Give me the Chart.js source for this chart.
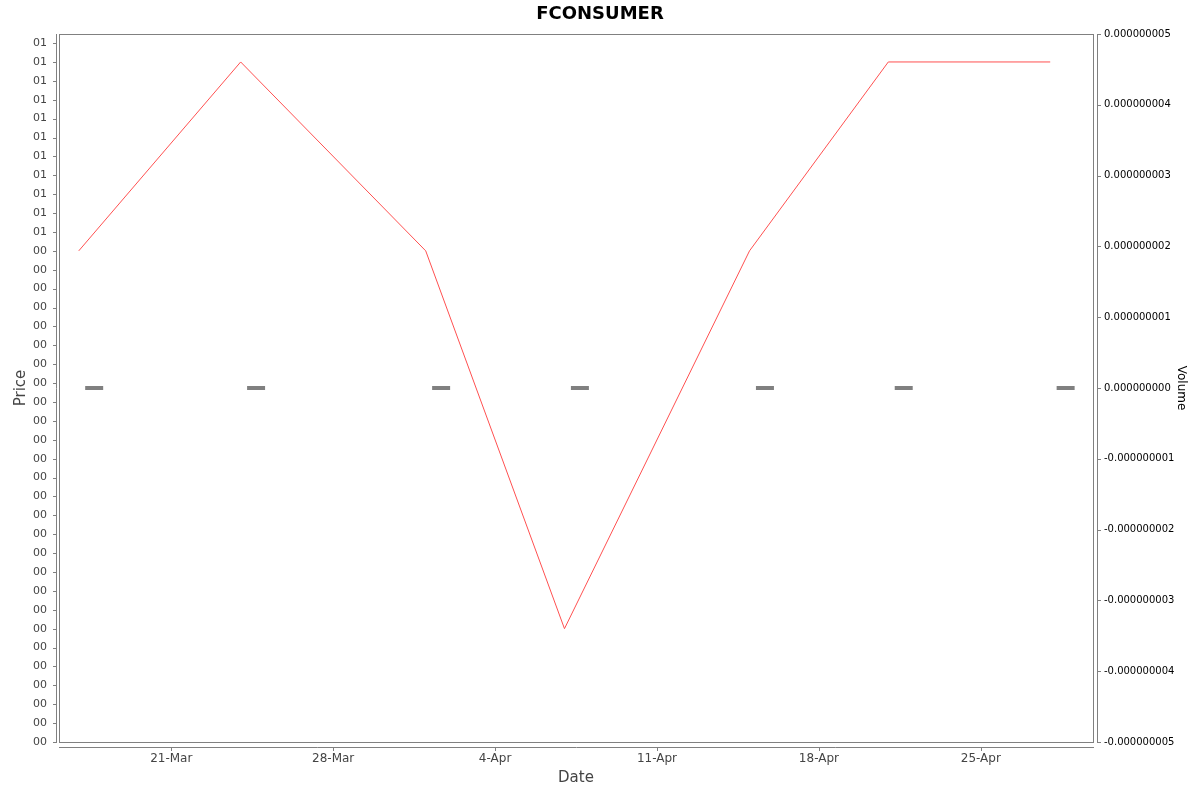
<!DOCTYPE html>
<html><head><meta charset="utf-8">
<script src="https://cdn.jsdelivr.net/npm/chart.js@4.4.0/dist/chart.umd.min.js"></script>
<style>html,body{margin:0;padding:0;background:#fff}canvas{display:block}</style>
</head><body>
<canvas id="c" width="1200" height="792"></canvas>
<script>
// ---- data ----
const chartTitle = 'FCONSUMER';
const priceDates = ['2025-03-17', '2025-03-24', '2025-04-01', '2025-04-07', '2025-04-15', '2025-04-21', '2025-04-28'];
const priceValues = [0.50, 0.60, 0.50, 0.30, 0.50, 0.60, 0.60];
const volumeDates = ['2025-03-17T16:00', '2025-03-24T16:00', '2025-04-01T16:00', '2025-04-07T16:00', '2025-04-15T16:00', '2025-04-21T16:00', '2025-04-28T16:00'];
const volumeValues = [0, 0, 0, 0, 0, 0, 0];
const dateTicks = ['2025-03-21', '2025-03-28', '2025-04-04', '2025-04-11', '2025-04-18', '2025-04-25'];
const dateTickLabels = ['21-Mar', '28-Mar', '4-Apr', '11-Apr', '18-Apr', '25-Apr'];
const dateRange = ['2025-03-16T03:30', '2025-04-29T20:24'];
const priceRange = [0.24, 0.6148];
const priceStep = 0.01;
const volumeRange = [-0.000000005, 0.000000005];
const volumeStep = 0.000000001;

// ---- helpers ----
const DAY = 86400000;
const toDay = s => Date.parse(s.length === 10 ? s + 'T00:00:00Z' : s + ':00Z') / DAY;
function fmt00(v) {
  const r = Math.round(v * 1e6) / 1e6;
  let n = Math.floor(r);
  const f = r - n;
  if (f > 0.5 + 1e-9 || (Math.abs(f - 0.5) < 1e-9 && n % 2 === 1)) n++;
  return String(n).padStart(2, '0');
}
const tickDayVals = dateTicks.map(toDay);

Chart.defaults.font.family = 'DejaVu Sans';

const decor = {
  id: 'decor',
  beforeDatasetsDraw(chart) {
    const ctx = chart.ctx, ca = chart.chartArea;
    const L = Math.round(ca.left), R = Math.round(ca.right), T = Math.round(ca.top), B = Math.round(ca.bottom);
    ctx.save();
    ctx.strokeStyle = '#808080';
    ctx.lineWidth = 1;
    // plot border
    ctx.strokeRect(L + 0.5, T + 0.5, R - L, B - T);
    ctx.beginPath();
    // left axis line + ticks
    ctx.moveTo(L - 2.5, T); ctx.lineTo(L - 2.5, B + 1);
    chart.scales.y.ticks.forEach(t => {
      const py = Math.round(chart.scales.y.getPixelForValue(t.value)) + 0.5;
      ctx.moveTo(L - 6, py); ctx.lineTo(L - 2, py);
    });
    // bottom axis line + ticks
    ctx.moveTo(L, B + 5.5); ctx.lineTo(R + 1, B + 5.5);
    chart.scales.x.ticks.forEach(t => {
      const px = Math.round(chart.scales.x.getPixelForValue(t.value)) + 0.5;
      ctx.moveTo(px, B + 5); ctx.lineTo(px, B + 9);
    });
    // right axis line + ticks
    ctx.moveTo(R + 4.5, T); ctx.lineTo(R + 4.5, B + 1);
    chart.scales.y1.ticks.forEach(t => {
      const py = Math.round(chart.scales.y1.getPixelForValue(t.value)) + 0.5;
      ctx.moveTo(R + 4, py); ctx.lineTo(R + 8, py);
    });
    ctx.stroke();
    ctx.restore();
  }
};

new Chart(document.getElementById('c'), {
  type: 'line',
  data: {
    datasets: [
      {
        label: 'Price',
        data: priceDates.map((d, i) => ({ x: toDay(d), y: priceValues[i] })),
        yAxisID: 'y',
        borderColor: 'rgb(255,80,80)',
        borderWidth: 1,
        pointRadius: 0,
        tension: 0,
        fill: false,
        order: 0
      },
      {
        label: 'Volume',
        data: volumeDates.map((d, i) => ({ x: toDay(d), y: volumeValues[i] })),
        yAxisID: 'y1',
        showLine: false,
        pointStyle: 'line',
        pointRadius: 9,
        pointBorderWidth: 4,
        borderColor: '#808080',
        pointBorderColor: '#808080',
        backgroundColor: '#808080',
        order: 1
      }
    ]
  },
  options: {
    responsive: false,
    animation: false,
    devicePixelRatio: 1,
    layout: { padding: 0 },
    plugins: {
      legend: { display: false },
      tooltip: { enabled: false },
      title: {
        display: true,
        text: chartTitle,
        color: '#000',
        font: { family: 'DejaVu Sans', size: 18, weight: 'bold' },
        padding: { top: 4, bottom: 8.4 }
      }
    },
    scales: {
      x: {
        type: 'linear',
        position: 'bottom',
        min: toDay(dateRange[0]),
        max: toDay(dateRange[1]),
        grid: { display: false, drawTicks: false },
        border: { display: false },
        afterBuildTicks: s => { s.ticks = tickDayVals.map(v => ({ value: v })); },
        afterFit: s => { s.height = 50; },
        ticks: {
          autoSkip: false,
          maxRotation: 0,
          padding: 10,
          color: '#444',
          font: { size: 12 },
          callback: (v) => {
            const i = tickDayVals.findIndex(t => Math.abs(t - v) < 1e-6);
            return i >= 0 ? dateTickLabels[i] : '';
          }
        },
        title: { display: true, text: 'Date', color: '#444', font: { size: 15 }, padding: { top: 0, bottom: 5 } }
      },
      y: {
        type: 'linear',
        position: 'left',
        min: priceRange[0],
        max: priceRange[1],
        grid: { display: false, drawTicks: false },
        border: { display: false },
        afterFit: s => { s.width = 59; },
        ticks: {
          stepSize: priceStep,
          includeBounds: false,
          autoSkip: false,
          maxTicksLimit: 200,
          padding: 12,
          color: '#444',
          font: { size: 11 },
          callback: v => fmt00(v)
        },
        title: { display: true, text: 'Price', color: '#444', font: { size: 15 }, padding: { top: 12, bottom: 0 } }
      },
      y1: {
        type: 'linear',
        position: 'right',
        min: volumeRange[0],
        max: volumeRange[1],
        grid: { display: false, drawTicks: false },
        border: { display: false },
        afterFit: s => { s.width = 107; },
        ticks: {
          stepSize: volumeStep,
          autoSkip: false,
          maxTicksLimit: 200,
          padding: 11,
          color: '#000',
          font: { size: 10 },
          callback: v => (Math.abs(v) < 1e-15 ? 0 : v).toFixed(9)
        },
        title: { display: true, text: 'Volume', color: '#000', font: { size: 12 }, padding: { top: 12, bottom: 0 } }
      }
    }
  },
  plugins: [decor]
});
</script>
</body></html>
